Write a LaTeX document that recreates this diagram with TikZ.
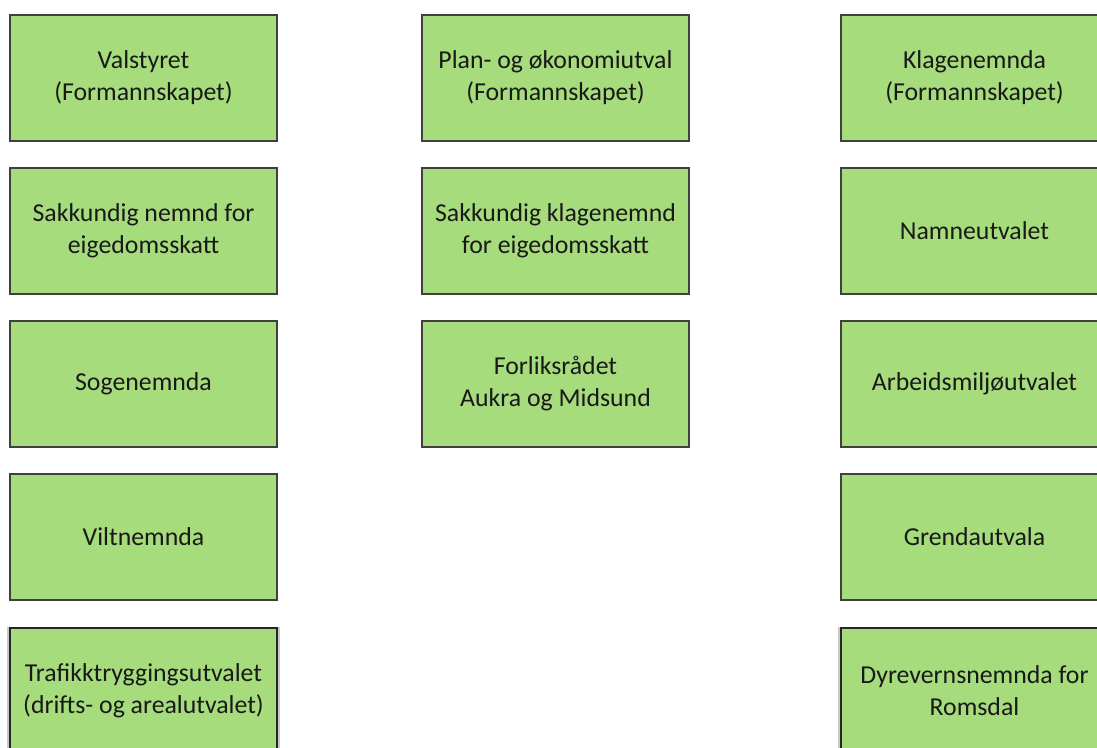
\documentclass[tikz,border=0pt]{standalone}
\usepackage{fontspec}
\setmainfont{Carlito}
\usetikzlibrary{shadows}
\definecolor{boxgreen}{RGB}{166,220,124}
\definecolor{boxline}{RGB}{64,64,64}
\tikzset{
  unit/.style={draw=boxline, line width=1.5pt, fill=boxgreen, rectangle,
    minimum width=267pt, minimum height=126pt, align=center, inner sep=0pt,
    font=\fontsize{25.8}{32}\selectfont, text=black!90},
  lastrow/.style={unit, draw=black!85, line width=2pt,
    drop shadow={shadow xshift=0pt, shadow yshift=0pt, opacity=0.35, fill=black!60, shadow scale=1.02}}
}
\begin{document}
\begin{tikzpicture}[x=1pt,y=-1pt]
\useasboundingbox (0,0) rectangle (1097,747);
\clip (0,0) rectangle (1097,747);
\fill[white] (0,0) rectangle (1097,747);
\node[unit] (valstyret) at (143.5,78) {Valstyret\\(Formannskapet)};
\node[unit] (sakkundig) at (143.5,231) {Sakkundig nemnd for\\eigedomsskatt};
\node[unit] (sogenemnda) at (143.5,384) {Sogenemnda};
\node[unit] (viltnemnda) at (143.5,537) {Viltnemnda};
\node[lastrow] (trafikk) at (143.5,691) {Trafikktryggingsutvalet\\(drifts- og arealutvalet)};
\node[unit] (plan) at (555.5,78) {Plan- og økonomiutval\\(Formannskapet)};
\node[unit] (sakklage) at (555.5,231) {Sakkundig klagenemnd\\for eigedomsskatt};
\node[unit] (forlik) at (555.5,384) {Forliksrådet\\Aukra og Midsund};
\node[unit] (klage) at (974.5,78) {Klagenemnda\\(Formannskapet)};
\node[unit] (namne) at (974.5,231) {Namneutvalet};
\node[unit] (arbeid) at (974.5,384) {Arbeidsmiljøutvalet};
\node[unit] (grend) at (974.5,537) {Grendautvala};
\node[lastrow] (dyrevern) at (974.5,691) {Dyrevernsnemnda for\\Romsdal};
\end{tikzpicture}
\end{document}
